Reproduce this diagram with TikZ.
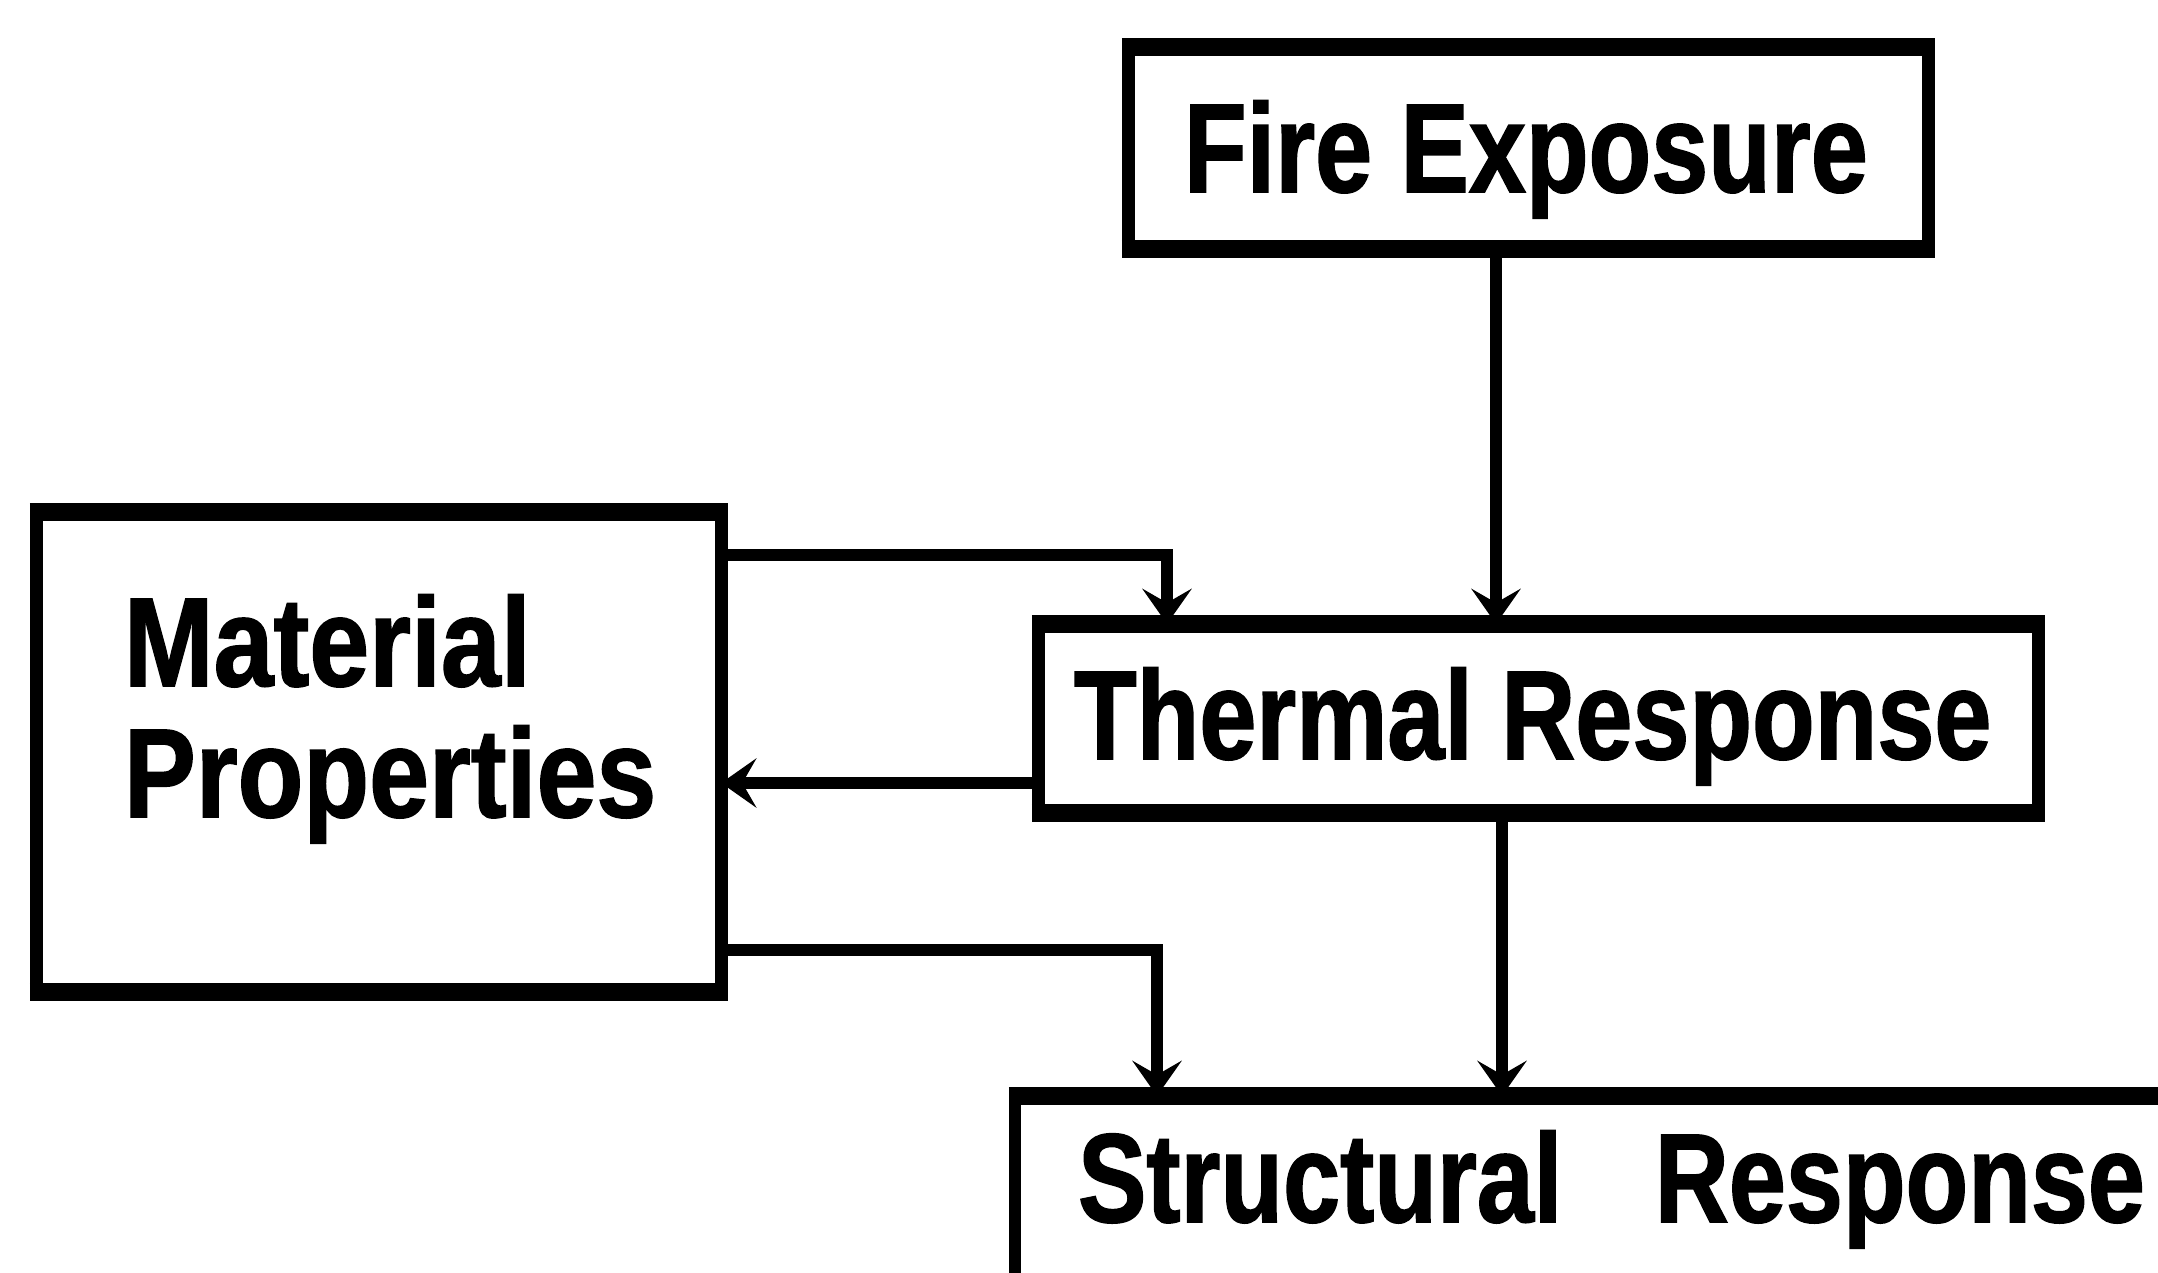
\documentclass[tikz,border=0pt]{standalone}
\usepackage{fontspec}
\newfontfamily\lblfont[FakeStretch=0.81, BoldFeatures={FakeBold=1.2}]{Liberation Sans}
\newfontfamily\matfont[FakeStretch=0.85, BoldFeatures={FakeBold=1.2}]{Liberation Sans}
\usetikzlibrary{arrows.meta}
\tikzset{
  box/.style={draw=black, line width=3.6pt, inner sep=0pt, outer sep=0pt, fill=white},
  edgeTB/.style={line width=5pt, line cap=butt},
  lbl/.style={anchor=base west, inner sep=0pt, outer sep=0pt, font=\lblfont\bfseries\fontsize{36}{38}\selectfont},
  matlbl/.style={anchor=base west, inner sep=0pt, outer sep=0pt, font=\matfont\bfseries\fontsize{36}{38}\selectfont},
  conn/.style={line width=3.4pt, -{Stealth[length=10pt,width=14pt,inset=4pt]}}
}
\begin{document}
\begin{tikzpicture}[x=0.01cm, y=-0.01cm]
\useasboundingbox (0,0) rectangle (2158,1272);
\fill[white] (0,0) rectangle (2158,1272);
\clip (0,0) rectangle (2158,1272);

% boxes
\node[box, minimum width=8.00cm, minimum height=2.02cm] (fire) at (1528.5,148) {};
\node[box, minimum width=6.845cm, minimum height=4.80cm] (mat) at (378.75,752) {};
\node[box, minimum width=10.00cm, minimum height=1.89cm] (therm) at (1538.5,718.5) {};
\node[box, minimum width=12.445cm, minimum height=1.86cm] (struct) at (1637.75,1189) {};

\foreach \n in {fire,mat,therm,struct}{
  \draw[edgeTB] ([xshift=-1.8pt]\n.north west) -- ([xshift=1.8pt]\n.north east);
  \draw[edgeTB] ([xshift=-1.8pt]\n.south west) -- ([xshift=1.8pt]\n.south east);
}

% labels
\node[lbl] (firelbl) at (1184,192) {Fire Exposure};
\node[lbl] (thermlbl) at (1074,759) {Thermal Response};
\node[matlbl] (matlbl1) at (124,686) {Material};
\node[matlbl] (matlbl2) at (124,817) {Properties};
\node[lbl] (structlbl) at (1078,1222) {Structural\hspace{0.64cm} Response};

% connector helpers
\coordinate (xa) at (1496,0);
\coordinate (xb) at (1167,0);
\coordinate (xe) at (1157,0);
\coordinate (xf) at (1502,0);
\coordinate (ya) at (0,555);
\coordinate (yc) at (0,783);
\coordinate (yd) at (0,950);

% connectors
\draw[conn] (fire.south -| xa) -- (therm.north -| xa);
\draw[conn] (mat.east |- ya) -| (therm.north -| xb);
\draw[conn] (therm.west |- yc) -- (mat.east |- yc);
\draw[conn] (mat.east |- yd) -| (struct.north -| xe);
\draw[conn] (therm.south -| xf) -- (struct.north -| xf);
\end{tikzpicture}
\end{document}
